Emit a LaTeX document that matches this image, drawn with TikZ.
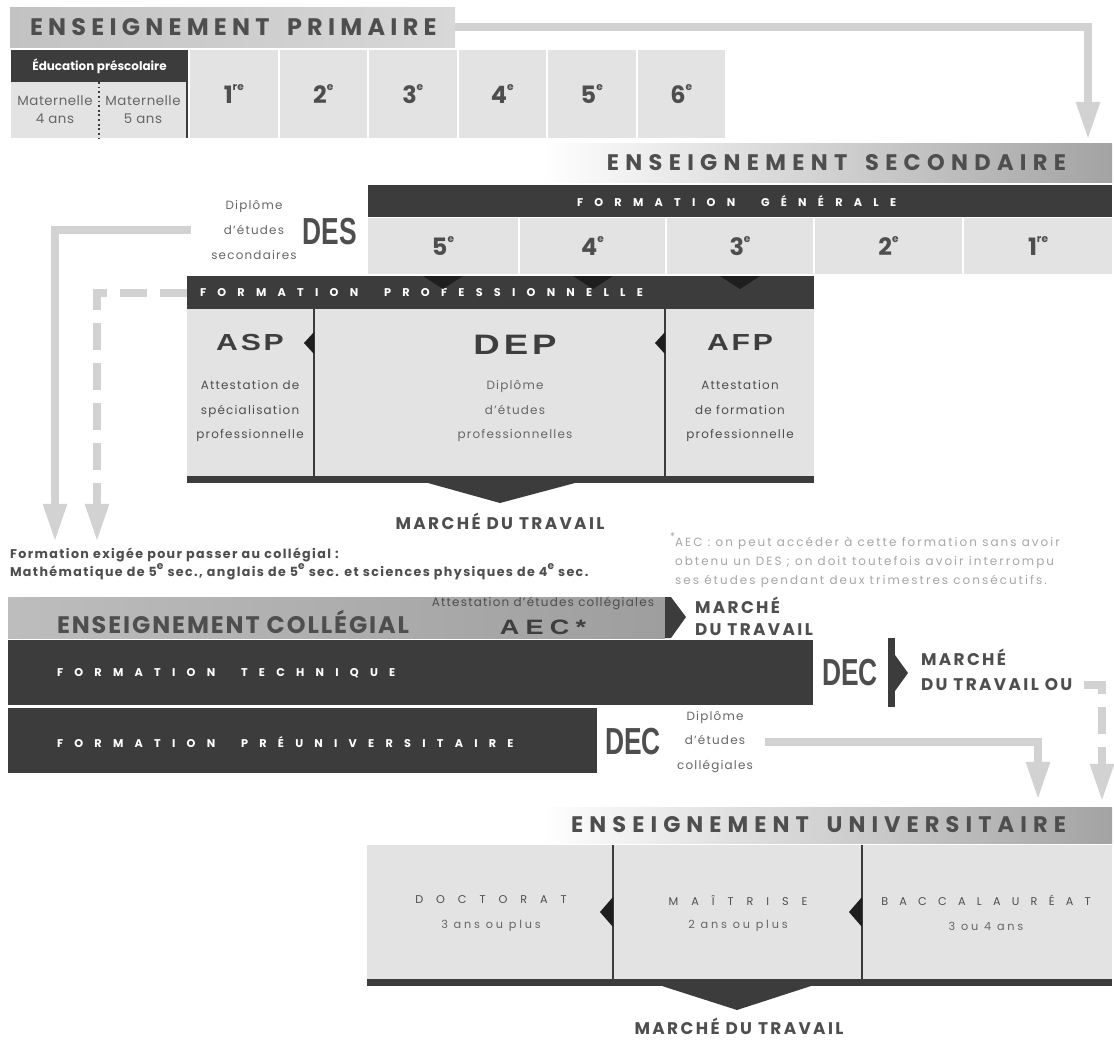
\documentclass[tikz,border=0pt]{standalone}
\usepackage{fontspec}
\setmainfont{Poppins}
\newfontfamily\widefont[FakeStretch=1.3]{Liberation Sans}
\newfontfamily\condfont[FakeStretch=0.7]{Liberation Sans}
\usetikzlibrary{arrows.meta}
\definecolor{txt}{HTML}{4E4E4E}
\definecolor{txtl}{HTML}{666666}
\definecolor{boxg}{HTML}{E3E3E3}
\definecolor{darkbar}{HTML}{3C3C3C}
\definecolor{darker}{HTML}{1E1E1E}
\definecolor{arrg}{HTML}{D2D2D2}
\definecolor{foot}{HTML}{A6A6A6}
\definecolor{hdrL}{HTML}{C2C2C2}
\definecolor{hdrR}{HTML}{D8D8D8}
\definecolor{colL}{HTML}{BDBDBD}
\definecolor{colM}{HTML}{E6E6E6}
\definecolor{colR}{HTML}{9E9E9E}
\definecolor{bandR}{HTML}{A3A3A3}
\newcommand\FS[2]{\fontsize{#1}{#2}\selectfont}
\newcommand\LS[1]{\addfontfeature{LetterSpace=#1}}
\newcommand\sups[1]{\raisebox{0.55em}{\fontsize{7.5}{7.5}\selectfont #1}}
\newcommand\wgap{\hspace*{2.3em}}
\newcommand\tgap{\ \hspace{0.3em}}
\tikzset{
 every node/.style={inner sep=0pt, outer sep=0pt},
 wh/.style 2 args={minimum width=#1*0.025cm, minimum height=#2*0.025cm, anchor=north west},
 lbox/.style={fill=boxg},
 dbox/.style={fill=darkbar},
 barlabel/.style={anchor=west, text=white, font=\FS{8}{10}\bfseries\LS{100}},
 grade/.style={text=txt, font=\FS{17}{20}\bfseries},
 small/.style={text=txtl, align=center, font=\FS{8.5}{17.6}\LS{10}},
 market/.style={text=txt, font=\FS{12}{17}\bfseries\LS{14}},
 wideb/.style={text=txt!80!black, font=\widefont\bfseries\FS{16.5}{18}\LS{12}},
 condb/.style={text=txt, font=\condfont\bfseries\FS{26.8}{28}},
 uni/.style={text=txt, font=\FS{8}{10}\LS{115}},
 unisub/.style={text=txtl, font=\FS{8}{10}\LS{25}},
 arr/.style={draw=arrg, line width=0.2cm, -{Triangle[length=0.95cm,width=0.55cm]}},
 dasharr/.style={arr, dash pattern=on 0.675cm off 0.325cm},
 divider/.style={draw=darkbar, line width=1.5pt},
}
\begin{document}
\begin{tikzpicture}[x=0.025cm,y=-0.025cm]
\useasboundingbox[fill=white] (0,0) rectangle (1114,1040);

% ---------------- PRIMAIRE
\node[wh={445}{40}, left color=hdrL, right color=hdrR] (primband) at (10,7) {};
\node[anchor=west, text=txt, font=\FS{17}{20}\bfseries\LS{22}] (primtitle) at (30,27) {ENSEIGNEMENT\tgap PRIMAIRE};
\node[wh={177}{32}, dbox, text=white, font=\FS{8.5}{10}\bfseries] (presco) at (11,50) {Éducation préscolaire};
\node[wh={88}{56}, lbox, align=center, text=txtl, font=\FS{9.5}{12.8}\LS{4}] (mat4) at (11,82) {Maternelle\\4 ans};
\node[wh={88}{56}, lbox, align=center, text=txtl, font=\FS{9.5}{12.8}\LS{4}] (mat5) at (99,82) {Maternelle\\5 ans};
\draw[darkbar, line width=1.3pt, dotted] (mat4.north east) -- (mat4.south east);
\draw[divider] (mat5.north east) -- (mat5.south east);
\foreach \i/\n/\s in {0/1/re,1/2/e,2/3/e,3/4/e,4/5/e,5/6/e}{
  \node[wh={87.5}{88}, lbox, grade] (p\i) at ({190+89.5*\i},50) {\n\sups{\s}};
}
\coordinate (t1) at (1088,140);
\draw[arr] (primband.east) -| (t1);

% ---------------- SECONDAIRE
\node[wh={572}{39}, left color=white, middle color=white!90!black, right color=bandR] (secband) at (540,143) {};
\node[anchor=east, text=txt, font=\FS{16}{18}\bfseries\LS{28}] (sectitle) at (1066,163) {ENSEIGNEMENT\tgap SECONDAIRE};
\node[wh={744}{32}, dbox] (fgbar) at (368,185) {};
\node[barlabel] (fglab) at (577,201) {FORMATION\wgap GÉNÉRALE};
\node[wh={150}{56}, lbox, grade] (s5) at (368,218) {5\sups{e}};
\node[wh={145}{56}, lbox, grade] (s4) at (520,218) {4\sups{e}};
\node[wh={146}{56}, lbox, grade] (s3) at (667,218) {3\sups{e}};
\node[wh={147}{56}, lbox, grade] (s2) at (815,218) {2\sups{e}};
\node[wh={148}{56}, lbox, grade] (s1) at (964,218) {1\sups{re}};
\node[small] (dipl) at (254,230) {Diplôme\\d’études\\secondaires};
\node[condb] (des) at (330,232) {DES};

% formation professionnelle
\node[wh={627}{33}, dbox] (probar) at (187,276) {};
\node[barlabel] (prolab) at (200,293) {FORMATION\wgap PROFESSIONNELLE};
\fill[darker] (423,276) -- (463,276) -- (443,289) -- cycle;
\fill[darker] (573,276) -- (613,276) -- (593,289) -- cycle;
\fill[darker] (720,276) -- (760,276) -- (740,289) -- cycle;
\node[wh={127}{167}, lbox] (asp) at (187,309) {};
\node[wh={351}{167}, lbox] (dep) at (314,309) {};
\node[wh={149}{167}, lbox] (afp) at (665,309) {};
\draw[divider] (asp.north east) -- (asp.south east);
\draw[divider] (dep.north east) -- (dep.south east);
\fill[darker] (314,332) -- (314,354) -- (304,343) -- cycle;
\fill[darker] (665,332) -- (665,354) -- (655,343) -- cycle;
\node[wh={627}{7}, dbox] (probot) at (187,476) {};
\fill[darkbar] (428,483) -- (575,483) -- (500,503) -- cycle;
\node[market] (mt1) at (500,521) {MARCHÉ DU TRAVAIL};
\node[wideb] (aspl) at (250,343) {ASP};
\node[small, text=txt] (aspd) at (250,411) {Attestation de\\spécialisation\\professionnelle};
\node[wideb, font=\widefont\bfseries\FS{20}{22}\LS{14}] (depl) at (515,345) {DEP};
\node[small] (depd) at (515,411) {Diplôme\\d’études\\professionnelles};
\node[wideb] (afpl) at (740,343) {AFP};
\node[small, text=txt] (afpd) at (740,411) {Attestation\\de formation\\professionnelle};

\coordinate (t2) at (55,542);
\coordinate (t3) at (97,542);
\draw[arr, shorten <=0.5cm] (dipl.west) -| (t2);
\draw[dasharr] (probar.west) -| (t3);

% notes
\node[anchor=west, align=left, text=foot, font=\FS{8.5}{12.1}\LS{17}] (note) at (670,560) {\sups{*}AEC : on peut accéder à cette formation sans avoir\\\phantom{\sups{*}}obtenu un DES ; on doit toutefois avoir interrompu\\\phantom{\sups{*}}ses études pendant deux trimestres consécutifs.};
\node[anchor=west, align=left, text=txt, font=\FS{9}{11.4}\bfseries\LS{11}] (req) at (10,564) {Formation exigée pour passer au collégial :\\Mathématique de 5\sups{e} sec., anglais de 5\sups{e} sec. et sciences physiques de 4\sups{e} sec.};

% ---------------- COLLEGIAL
\node[wh={657}{41}, left color=colL, middle color=colM, right color=colR] (colband) at (8,597) {};
\node[anchor=west, text=txt, font=\FS{17}{20}\bfseries\LS{8}] (coltitle) at (57,622) {ENSEIGNEMENT COLLÉGIAL};
\node[text=txt, font=\FS{8.5}{10}\LS{10}] (aeclab) at (543,603) {Attestation d’études collégiales};
\node[text=txt!80!black, font=\widefont\bfseries\FS{14.8}{16}\LS{30}] (aec) at (543,627) {AEC*};
\fill[darkbar] (665,597) -- (671,597) -- (686,617) -- (671,638) -- (665,638) -- cycle;
\node[anchor=west, market] (mt2a) at (695,605) {MARCHÉ};
\node[anchor=west, market] (mt2b) at (695,630) {DU TRAVAIL};

\node[wh={805}{65}, dbox] (tech) at (8,640) {};
\node[barlabel] (techlab) at (57,673) {FORMATION\wgap TECHNIQUE};
\node[condb] (dec1) at (850,673) {DEC};
\fill[darkbar] (888,638) rectangle (895,707);
\fill[darkbar] (895,655) -- (908,673) -- (895,691) -- cycle;
\node[anchor=west, market] (mt3a) at (921,657) {MARCHÉ};
\node[anchor=west, market] (mt3b) at (921,685) {DU TRAVAIL OU};

\node[wh={589}{65}, dbox] (preu) at (8,708) {};
\node[barlabel] (preulab) at (57,742) {FORMATION\wgap PRÉUNIVERSITAIRE};
\node[condb] (dec2) at (633,742) {DEC};
\node[small] (dcl) at (715,742) {Diplôme\\d’études\\collégiales};

\coordinate (t4) at (1102,802);
\coordinate (t5) at (1038,800);
\draw[dasharr, shorten <=0.3cm] (mt3b.east) -| (t4);
\draw[arr, shorten <=0.3cm] (dcl.east) -| (t5);

% ---------------- UNIVERSITAIRE
\node[wh={572}{36}, left color=white, middle color=white!92!black, right color=bandR] (uniband) at (540,807) {};
\node[anchor=east, text=txt, font=\FS{16}{18}\bfseries\LS{27}] (unititle) at (1066,825) {ENSEIGNEMENT\tgap UNIVERSITAIRE};
\node[wh={246}{134}, lbox] (doc) at (367,845) {};
\node[wh={249}{134}, lbox] (mai) at (613,845) {};
\node[wh={250}{134}, lbox] (bac) at (862,845) {};
\draw[divider] (doc.north east) -- (doc.south east);
\draw[divider] (mai.north east) -- (mai.south east);
\fill[darker] (613,897) -- (613,927) -- (600,912) -- cycle;
\fill[darker] (862,897) -- (862,927) -- (849,912) -- cycle;
\node[wh={745}{7}, dbox] (ubot) at (367,979) {};
\fill[darkbar] (662,986) -- (811,986) -- (737,1010) -- cycle;
\node[market] (mt4) at (739,1026) {MARCHÉ DU TRAVAIL};
\node[uni] (docl) at (491,900) {DOCTORAT};
\node[unisub] (docd) at (491,926) {3 ans ou plus};
\node[uni] (mail) at (738,900) {MAÎTRISE};
\node[unisub] (maid) at (738,926) {2 ans ou plus};
\node[uni, font=\FS{8}{10}\LS{100}] (bacl) at (986,900) {BACCALAURÉAT};
\node[unisub] (bacd) at (986,926) {3 ou 4 ans};
\end{tikzpicture}
\end{document}
